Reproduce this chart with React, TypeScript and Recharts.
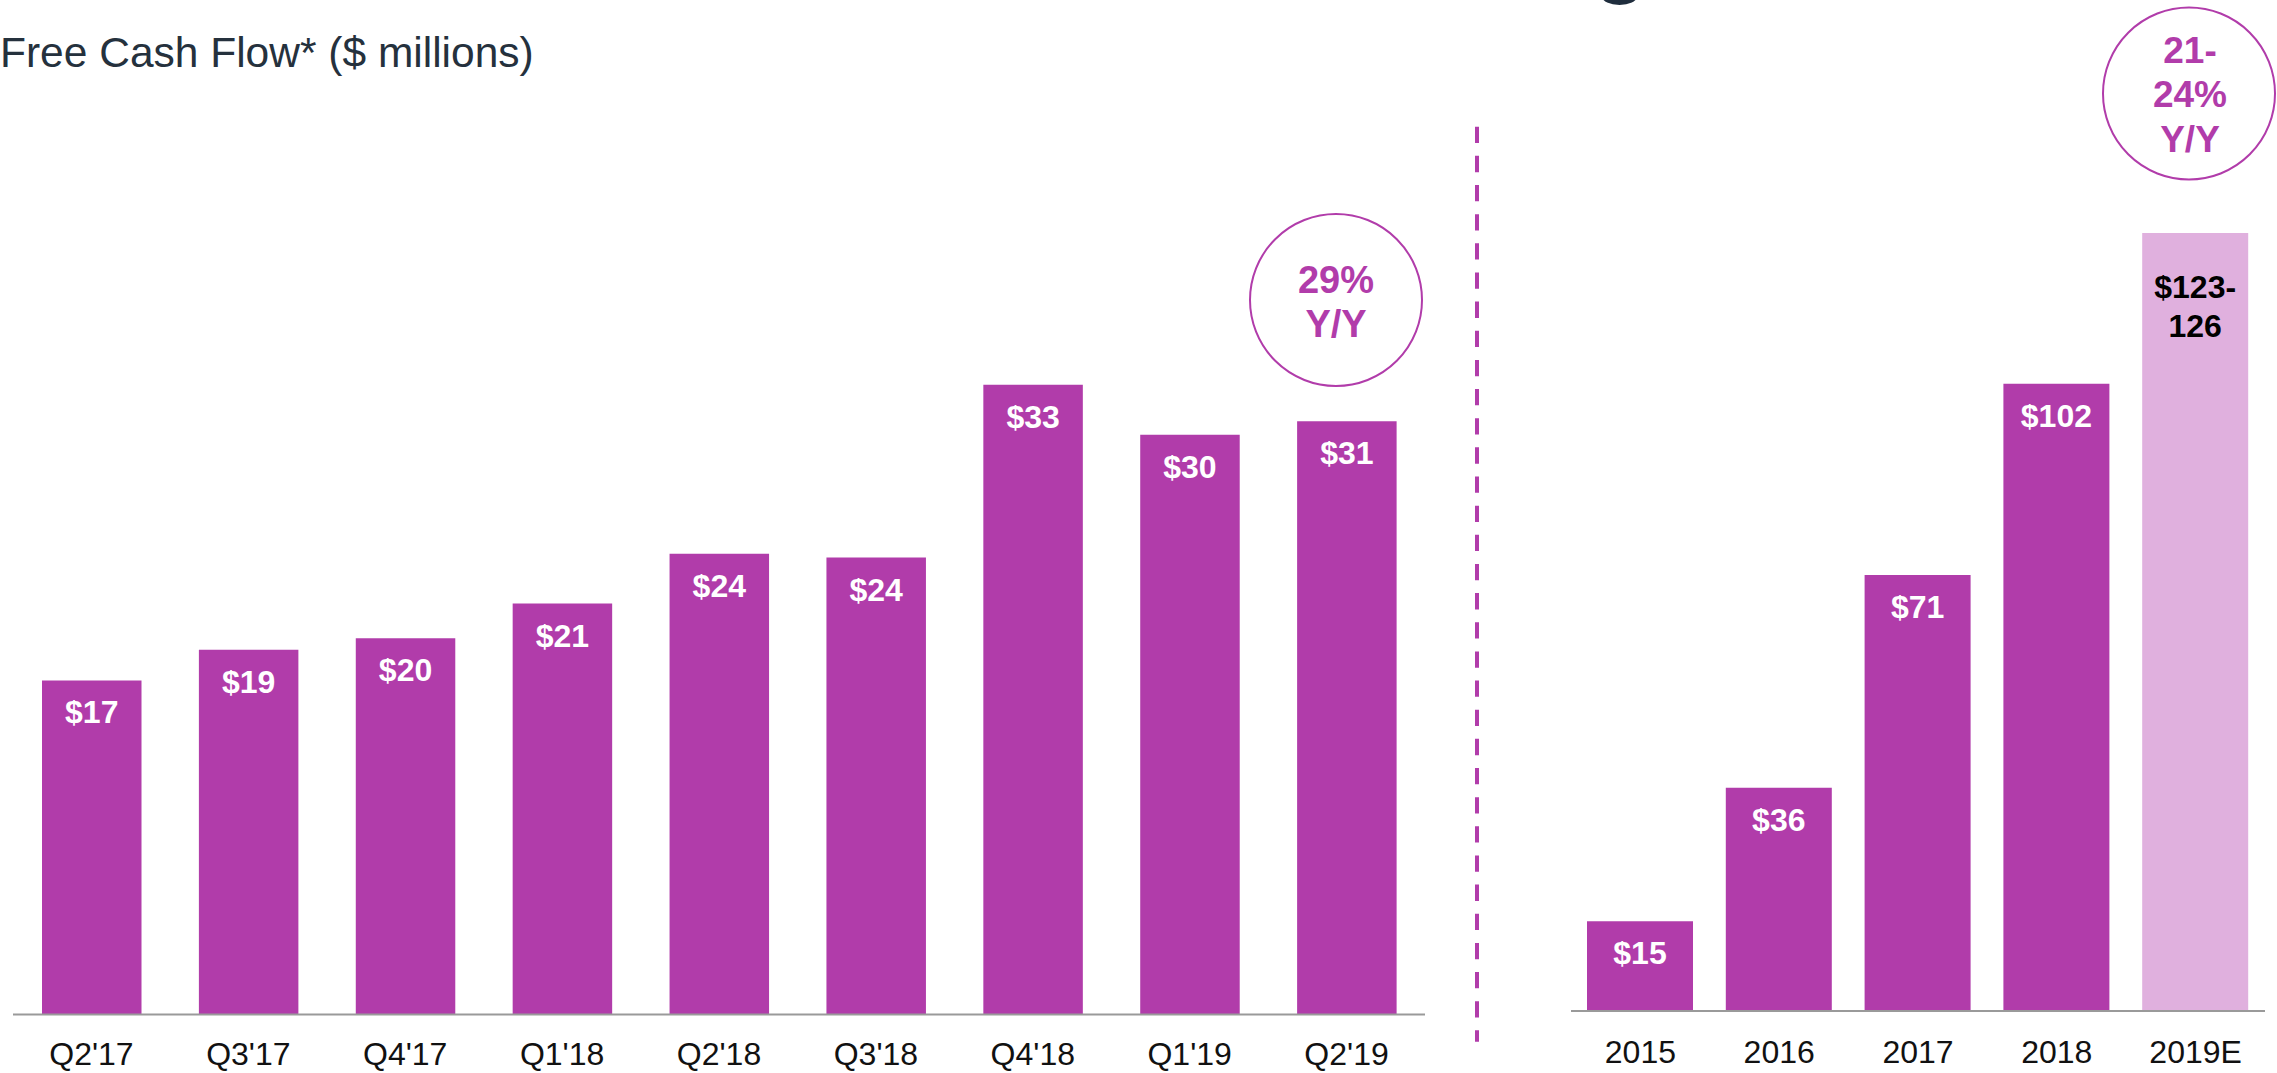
import { BarChart, Bar, XAxis, YAxis, Cell, LabelList } from "recharts";

// Quarterly free cash flow ($M)
const quarters = ["Q2'17", "Q3'17", "Q4'17", "Q1'18", "Q2'18", "Q3'18", "Q4'18", "Q1'19", "Q2'19"];
const quarterValues = [17.4, 19.0, 19.6, 21.4, 24.0, 23.8, 32.8, 30.2, 30.9];
const quarterLabels = ["$17", "$19", "$20", "$21", "$24", "$24", "$33", "$30", "$31"];

// Annual free cash flow ($M), 2019E is the guidance range
const years = ["2015", "2016", "2017", "2018", "2019E"];
const yearValues = [14.6, 36.3, 70.9, 102, 126.5];
const yearLabels = ["$15", "$36", "$71", "$102", "$123-\n126"];
const estimateFlags = [false, false, false, false, true];

const quarterData = quarters.map((q, i) => ({ name: q, value: quarterValues[i], label: quarterLabels[i] }));
const yearData = years.map((y, i) => ({ name: y, value: yearValues[i], label: yearLabels[i], est: estimateFlags[i] }));

const PURPLE = "#B13CAA";
const LIGHT_PURPLE = "#E0B0DE";
const FONT = "'Liberation Sans', Arial, Helvetica, sans-serif";

const tickStyle = { fontSize: 32, fill: "#111111", fontFamily: FONT };

// white bold value label near the top of each bar; the estimate bar gets black 2-line text
const BarLabel = (props: any) => {
  const { x, y, width, value, index } = props;
  const cx = x + width / 2;
  const lines = String(value).split("\n");
  const isEst = lines.length > 1;
  return (
    <text
      x={cx}
      y={y + (isEst ? 65 : 43)}
      textAnchor="middle"
      fill={isEst ? "#000000" : "#FFFFFF"}
      fontFamily={FONT}
      fontWeight="bold"
      fontSize={32}
      key={index}
    >
      {lines.map((l, i) => (
        <tspan key={i} x={cx} dy={i === 0 ? 0 : 39}>
          {l}
        </tspan>
      ))}
    </text>
  );
};

export default function App() {
  return (
    <div style={{ position: "absolute", left: 0, top: 0, width: 2277, height: 1073, background: "#fff", overflow: "hidden" }}>
      <div
        style={{
          position: "absolute",
          left: 0,
          top: 29,
          fontFamily: FONT,
          fontSize: 42.5,
          color: "#25313D",
          whiteSpace: "nowrap",
          lineHeight: "48px",
        }}
      >
        Free Cash Flow* ($ millions)
      </div>
      {/* cut-off glyph at the top edge of the slide */}
      <div
        style={{
          position: "absolute",
          left: 1602,
          top: -12,
          width: 35,
          height: 17,
          borderRadius: "50%",
          background: "#1F2D3D",
        }}
      />

      <div style={{ position: "absolute", left: 0, top: 0 }}>
        <BarChart width={1440} height={1073} data={quarterData} margin={{ top: 246.5, right: 15, left: 13, bottom: 0 }}>
          <XAxis
            dataKey="name"
            height={58.5}
            tickLine={false}
            tickSize={0}
            tickMargin={28}
            axisLine={{ stroke: "#9A9A9A", strokeWidth: 2 }}
            tick={tickStyle}
            interval={0}
          />
          <YAxis hide domain={[0, 40]} />
          <Bar dataKey="value" fill={PURPLE} barSize={99.5} isAnimationActive={false}>
            <LabelList dataKey="label" content={BarLabel} />
          </Bar>
        </BarChart>
      </div>

      <div style={{ position: "absolute", left: 1540, top: 0 }}>
        <BarChart width={737} height={1073} data={yearData} margin={{ top: 211.5, right: 12, left: 31, bottom: 0 }}>
          <XAxis
            dataKey="name"
            height={62}
            tickLine={false}
            tickSize={0}
            tickMargin={29}
            axisLine={{ stroke: "#9A9A9A", strokeWidth: 2 }}
            tick={tickStyle}
            interval={0}
          />
          <YAxis hide domain={[0, 130]} />
          <Bar dataKey="value" barSize={106} isAnimationActive={false}>
            {yearData.map((d) => (
              <Cell key={d.name} fill={d.est ? LIGHT_PURPLE : PURPLE} />
            ))}
            <LabelList dataKey="label" content={BarLabel} />
          </Bar>
        </BarChart>
      </div>

      {/* growth callouts and the divider between quarterly and annual views */}
      <svg width={2277} height={1073} style={{ position: "absolute", left: 0, top: 0, pointerEvents: "none" }}>
        <line x1={1477} y1={126.7} x2={1477} y2={1041.7} stroke={PURPLE} strokeWidth={4} strokeDasharray="16.3 12.85" />
        <circle cx={1336} cy={300} r={86} fill="none" stroke={PURPLE} strokeWidth={2} />
        <text x={1336} textAnchor="middle" fill={PURPLE} fontFamily={FONT} fontWeight="bold" fontSize={38}>
          <tspan x={1336} y={293}>29%</tspan>
          <tspan x={1336} y={337}>Y/Y</tspan>
        </text>
        <circle cx={2189} cy={93.5} r={86} fill="none" stroke={PURPLE} strokeWidth={2} />
        <text x={2190} textAnchor="middle" fill={PURPLE} fontFamily={FONT} fontWeight="bold" fontSize={37}>
          <tspan x={2190} y={63}>21-</tspan>
          <tspan x={2190} y={107}>24%</tspan>
          <tspan x={2190} y={152}>Y/Y</tspan>
        </text>
      </svg>
    </div>
  );
}
